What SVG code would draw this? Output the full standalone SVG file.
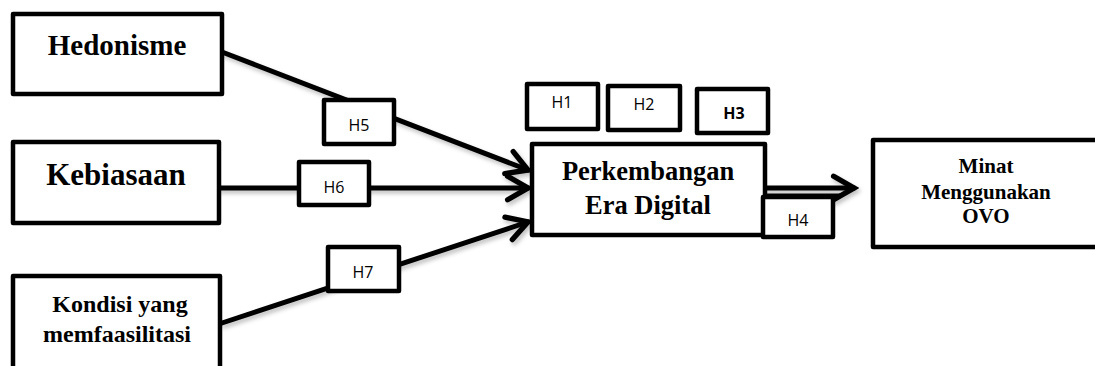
<svg xmlns="http://www.w3.org/2000/svg" width="1095" height="366" viewBox="0 0 1095 366">
<defs>
<style>
.box{fill:#fff;stroke:#000;stroke-width:4.5;stroke-linejoin:round}
.hb{fill:#fff;stroke:#000;stroke-width:4.5;stroke-linejoin:round}
.t{font-family:"Liberation Serif","Times New Roman",serif;font-weight:bold;fill:#000;text-anchor:middle}
.h{font-family:"Open Sans","Liberation Sans",sans-serif;font-size:16px;fill:#000;text-anchor:middle}
.c{fill:none;stroke:#000;stroke-width:5;stroke-linecap:round}
</style>
<marker id="ah" markerUnits="userSpaceOnUse" markerWidth="30" markerHeight="30" viewBox="-23 -14 27 28" refX="0" refY="0" orient="auto">
<path d="M-19,-11 L0,0 L-19,11" fill="none" stroke="#000" stroke-width="5" stroke-linecap="round" stroke-linejoin="miter"/>
</marker>
<filter id="sh" x="-10%" y="-10%" width="130%" height="130%">
<feDropShadow dx="2" dy="3" stdDeviation="2" flood-color="#000" flood-opacity="0.25"/>
</filter>
</defs>
<g id="connectors" filter="url(#sh)">
<line class="c" x1="222" y1="52" x2="528" y2="170" marker-end="url(#ah)"/>
<line class="c" x1="219" y1="188" x2="528" y2="188" marker-end="url(#ah)"/>
<line class="c" x1="222" y1="323" x2="528" y2="222" marker-end="url(#ah)"/>
<line x1="765" y1="195" x2="842" y2="195" stroke="#000" stroke-width="3"/>
<line class="c" x1="765" y1="188" x2="854" y2="188" marker-end="url(#ah)"/>
</g>
<g id="hedonisme">
<rect class="box" x="13" y="14" width="209" height="80"/>
<text class="t" x="117" y="55" font-size="29">Hedonisme</text>
</g>
<g id="kebiasaan">
<rect class="box" x="13" y="142" width="206" height="81"/>
<text class="t" x="116" y="185" font-size="31">Kebiasaan</text>
</g>
<g id="kondisi">
<rect class="box" x="13" y="276" width="207" height="100"/>
<text class="t" x="120" y="312" font-size="24">Kondisi yang</text>
<text class="t" x="117" y="342" font-size="24">memfaasilitasi</text>
</g>
<g id="perkembangan">
<rect class="box" x="532" y="144" width="233" height="91"/>
<text class="t" x="648" y="180" font-size="26.5">Perkembangan</text>
<text class="t" x="648" y="214" font-size="26.5">Era Digital</text>
</g>
<g id="minat">
<rect class="box" x="873" y="140" width="240" height="107"/>
<text class="t" x="986" y="173" font-size="21">Minat</text>
<text class="t" x="986" y="199" font-size="21">Menggunakan</text>
<text class="t" x="986" y="223" font-size="21">OVO</text>
</g>
<g id="h1"><rect class="hb" x="527" y="84" width="71" height="45"/><text class="h" x="562" y="108">H1</text></g>
<g id="h2"><rect class="hb" x="608" y="86" width="72" height="44"/><text class="h" x="644" y="110">H2</text></g>
<g id="h3"><rect class="hb" x="697" y="89" width="71" height="44"/><text class="h" x="734" y="119" font-weight="bold">H3</text></g>
<g id="h4"><rect class="hb" x="763" y="197" width="70" height="40"/><text class="h" x="798" y="226">H4</text></g>
<g id="h5"><rect class="hb" x="324" y="100" width="70" height="44"/><text class="h" x="359" y="131">H5</text></g>
<g id="h6"><rect class="hb" x="299" y="162" width="70" height="43"/><text class="h" x="334" y="193">H6</text></g>
<g id="h7"><rect class="hb" x="328" y="247" width="71" height="44"/><text class="h" x="363" y="278">H7</text></g>
</svg>
